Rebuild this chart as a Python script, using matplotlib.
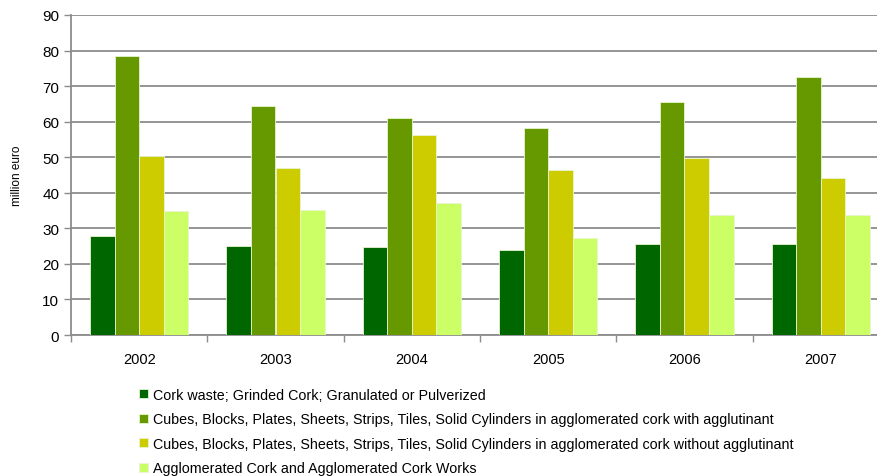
import matplotlib
matplotlib.use("Agg")
import matplotlib.pyplot as plt
import numpy as np

plt.rcParams['font.family'] = ['Liberation Sans', 'DejaVu Sans']

years = ["2002", "2003", "2004", "2005", "2006", "2007"]
series_names = [
    "Cork waste; Grinded Cork; Granulated or Pulverized",
    "Cubes, Blocks, Plates, Sheets, Strips, Tiles, Solid Cylinders in agglomerated cork with agglutinant",
    "Cubes, Blocks, Plates, Sheets, Strips, Tiles, Solid Cylinders in agglomerated cork without agglutinant",
    "Agglomerated Cork and Agglomerated Cork Works",
]
cork_waste = [27.8, 24.9, 24.8, 23.9, 25.6, 25.7]
with_agglutinant = [78.4, 64.4, 60.9, 58.1, 65.4, 72.5]
without_agglutinant = [50.3, 47.0, 56.2, 46.4, 49.9, 44.1]
agglomerated_works = [34.9, 35.2, 37.1, 27.4, 33.7, 33.7]
colors = ["#006600", "#669900", "#cccc00", "#ccff66"]

values = [cork_waste, with_agglutinant, without_agglutinant, agglomerated_works]

W, H = 877, 477
fig = plt.figure(figsize=(W / 100, H / 100), dpi=100)
ax = fig.add_axes([71 / W, (H - 336) / H, (889 - 71) / W, 320 / H])

x = np.arange(len(years))
bw = 0.18
for i, (vals, col, name) in enumerate(zip(values, colors, series_names)):
    ax.bar(x + (i - 1.5) * bw, vals, width=bw, color=col, edgecolor="#e8f5d0",
           linewidth=0.6, label=name, zorder=3)

ax.set_xlim(-0.5, len(years) - 0.5)
ax.set_ylim(0, 90)
ax.set_yticks(np.arange(0, 91, 10))
ax.yaxis.grid(True, color="#8c8c8c", linewidth=1.3, zorder=0)
ax.set_axisbelow(True)

ax.set_xticks(x)
ax.set_xticklabels(years, fontsize=10.5)
ax.set_xticks(np.arange(-0.5, len(years), 1), minor=True)
ax.tick_params(axis="x", which="major", length=0, pad=12)
ax.tick_params(axis="x", which="minor", length=5, color="#8c8c8c", width=1)
ax.tick_params(axis="y", length=5, color="#8c8c8c", width=1, labelsize=11)

for s in ["top", "right"]:
    ax.spines[s].set_visible(False)
for s in ["left", "bottom"]:
    ax.spines[s].set_color("#8c8c8c")
    ax.spines[s].set_linewidth(1.3)

ax.set_ylabel("million euro", fontsize=8.5, labelpad=14)

handles, labels = ax.get_legend_handles_labels()
fig.legend(handles, labels, loc="upper left", bbox_to_anchor=(139 / W, 1 - 389 / H),
           frameon=False, fontsize=10.3, handlelength=0.6, handleheight=0.6,
           handletextpad=0.35, labelspacing=0.73, borderaxespad=0, borderpad=0)

fig.savefig("out.png", dpi=100)
